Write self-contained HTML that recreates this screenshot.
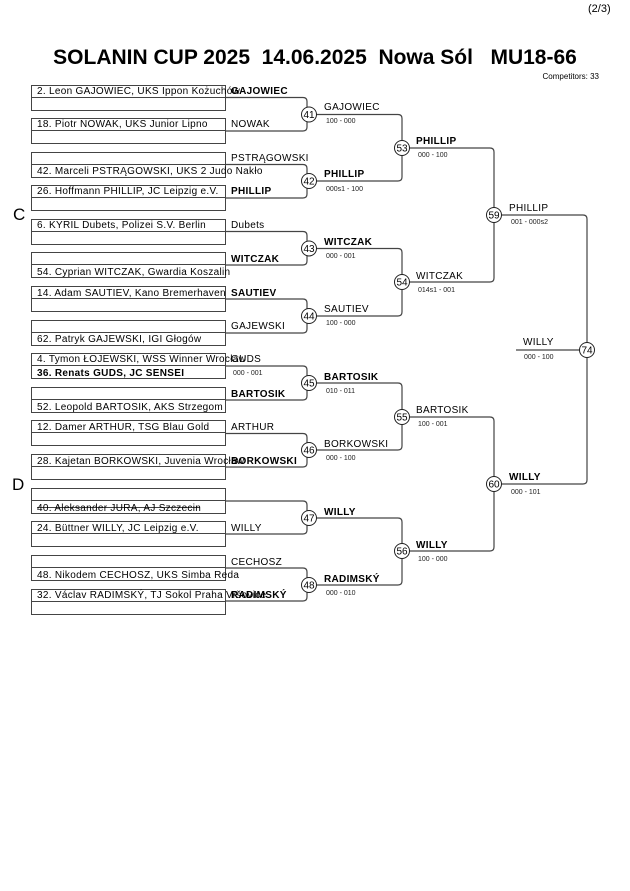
<!DOCTYPE html>
<html><head><meta charset="utf-8"><style>
html,body{margin:0;padding:0;background:#fff;}
svg{display:block;font-family:"Liberation Sans",Arial,sans-serif;}
.n{font-size:10px;letter-spacing:0.3px;fill:#000}
.b{font-weight:bold}
.s{font-size:7px;fill:#222}
.c{font-size:10px;text-anchor:middle;fill:#000}
rect{fill:none;stroke:#444;stroke-width:1}
path,line{fill:none;stroke:#444;stroke-width:1.2}
circle{fill:#fff;stroke:#222;stroke-width:1}
</style></head><body>
<svg width="630" height="891" viewBox="0 0 630 891" xmlns="http://www.w3.org/2000/svg">
<text x="588" y="12" style="font-size:11px">(2/3)</text>
<text x="315" y="64" text-anchor="middle" xml:space="preserve" style="font-size:21px;font-weight:bold">SOLANIN CUP 2025  14.06.2025  Nowa Sól   MU18-66</text>
<text x="599" y="79" text-anchor="end" style="font-size:8px">Competitors: 33</text>
<text x="13" y="220" style="font-size:17px">C</text>
<text x="12" y="490" style="font-size:17px">D</text>

<g>
<rect x="31.5" y="85.5" width="194" height="25"/><line x1="31.5" y1="97.5" x2="225.5" y2="97.5" style="stroke-width:1"/>
<rect x="31.5" y="118.5" width="194" height="25"/><line x1="31.5" y1="130.5" x2="225.5" y2="130.5" style="stroke-width:1"/>
<rect x="31.5" y="152.5" width="194" height="25"/><line x1="31.5" y1="164.5" x2="225.5" y2="164.5" style="stroke-width:1"/>
<rect x="31.5" y="185.5" width="194" height="25"/><line x1="31.5" y1="197.5" x2="225.5" y2="197.5" style="stroke-width:1"/>
<rect x="31.5" y="219.5" width="194" height="25"/><line x1="31.5" y1="231.5" x2="225.5" y2="231.5" style="stroke-width:1"/>
<rect x="31.5" y="252.5" width="194" height="25"/><line x1="31.5" y1="264.5" x2="225.5" y2="264.5" style="stroke-width:1"/>
<rect x="31.5" y="286.5" width="194" height="25"/><line x1="31.5" y1="298.5" x2="225.5" y2="298.5" style="stroke-width:1"/>
<rect x="31.5" y="320.5" width="194" height="25"/><line x1="31.5" y1="332.5" x2="225.5" y2="332.5" style="stroke-width:1"/>
<rect x="31.5" y="353.5" width="194" height="25"/><line x1="31.5" y1="365.5" x2="225.5" y2="365.5" style="stroke-width:1"/>
<rect x="31.5" y="387.5" width="194" height="25"/><line x1="31.5" y1="399.5" x2="225.5" y2="399.5" style="stroke-width:1"/>
<rect x="31.5" y="420.5" width="194" height="25"/><line x1="31.5" y1="432.5" x2="225.5" y2="432.5" style="stroke-width:1"/>
<rect x="31.5" y="454.5" width="194" height="25"/><line x1="31.5" y1="466.5" x2="225.5" y2="466.5" style="stroke-width:1"/>
<rect x="31.5" y="488.5" width="194" height="25"/><line x1="31.5" y1="500.5" x2="225.5" y2="500.5" style="stroke-width:1"/>
<rect x="31.5" y="521.5" width="194" height="25"/><line x1="31.5" y1="533.5" x2="225.5" y2="533.5" style="stroke-width:1"/>
<rect x="31.5" y="555.5" width="194" height="25"/><line x1="31.5" y1="567.5" x2="225.5" y2="567.5" style="stroke-width:1"/>
<rect x="31.5" y="589.5" width="194" height="25"/><line x1="31.5" y1="601.5" x2="225.5" y2="601.5" style="stroke-width:1"/>
</g>

<g>
<path d="M225 97.5 H303 q4 0 4 4 V127 q0 4 -4 4 H225"/>
<path d="M225 164.5 H303 q4 0 4 4 V194 q0 4 -4 4 H225"/>
<path d="M225 231.5 H303 q4 0 4 4 V261 q0 4 -4 4 H225"/>
<path d="M225 299 H303 q4 0 4 4 V329 q0 4 -4 4 H225"/>
<path d="M225 366 H303 q4 0 4 4 V396 q0 4 -4 4 H225"/>
<path d="M225 433.5 H303 q4 0 4 4 V463 q0 4 -4 4 H225"/>
<path d="M225 501 H303 q4 0 4 4 V530 q0 4 -4 4 H225"/>
<path d="M225 568 H303 q4 0 4 4 V597 q0 4 -4 4 H225"/>
<path d="M309 114.5 H398 q4 0 4 4 V177 q0 4 -4 4 H309"/>
<path d="M309 248.5 H398 q4 0 4 4 V312 q0 4 -4 4 H309"/>
<path d="M309 383 H398 q4 0 4 4 V446 q0 4 -4 4 H309"/>
<path d="M309 518 H398 q4 0 4 4 V581 q0 4 -4 4 H309"/>
<path d="M402 148 H490 q4 0 4 4 V278 q0 4 -4 4 H402"/>
<path d="M402 417 H490 q4 0 4 4 V547 q0 4 -4 4 H402"/>
<path d="M494 215 H583 q4 0 4 4 V480 q0 4 -4 4 H494"/>
<line x1="516" y1="350" x2="587" y2="350"/>
</g>

<g>
<circle cx="309" cy="114.5" r="7.5"/><text class="c" x="309" y="118">41</text>
<circle cx="309" cy="181" r="7.5"/><text class="c" x="309" y="184.5">42</text>
<circle cx="309" cy="248.5" r="7.5"/><text class="c" x="309" y="252">43</text>
<circle cx="309" cy="316" r="7.5"/><text class="c" x="309" y="319.5">44</text>
<circle cx="309" cy="383" r="7.5"/><text class="c" x="309" y="386.5">45</text>
<circle cx="309" cy="450" r="7.5"/><text class="c" x="309" y="453.5">46</text>
<circle cx="309" cy="518" r="7.5"/><text class="c" x="309" y="521.5">47</text>
<circle cx="309" cy="585" r="7.5"/><text class="c" x="309" y="588.5">48</text>
<circle cx="402" cy="148" r="7.5"/><text class="c" x="402" y="151.5">53</text>
<circle cx="402" cy="282" r="7.5"/><text class="c" x="402" y="285.5">54</text>
<circle cx="402" cy="417" r="7.5"/><text class="c" x="402" y="420.5">55</text>
<circle cx="402" cy="551" r="7.5"/><text class="c" x="402" y="554.5">56</text>
<circle cx="494" cy="215" r="7.5"/><text class="c" x="494" y="218.5">59</text>
<circle cx="494" cy="484" r="7.5"/><text class="c" x="494" y="487.5">60</text>
<circle cx="587" cy="350" r="7.5"/><text class="c" x="587" y="353.5">74</text>
</g>

<g class="n">
<text class="n" x="37" y="94">2. Leon GAJOWIEC, UKS Ippon Kożuchów</text>
<text class="n" x="37" y="127">18. Piotr NOWAK, UKS Junior Lipno</text>
<text class="n" x="37" y="174">42. Marceli PSTRĄGOWSKI, UKS 2 Judo Nakło</text>
<text class="n" x="37" y="194">26. Hoffmann PHILLIP, JC Leipzig e.V.</text>
<text class="n" x="37" y="228">6. KYRIL Dubets, Polizei S.V. Berlin</text>
<text class="n" x="37" y="275">54. Cyprian WITCZAK, Gwardia Koszalin</text>
<text class="n" x="37" y="296">14. Adam SAUTIEV, Kano Bremerhaven</text>
<text class="n" x="37" y="342">62. Patryk GAJEWSKI, IGI Głogów</text>
<text class="n" x="37" y="362">4. Tymon ŁOJEWSKI, WSS Winner Wrocław</text>
<text class="n b" x="37" y="376">36. Renats GUDS, JC SENSEI</text>
<text class="n" x="37" y="410">52. Leopold BARTOSIK, AKS Strzegom</text>
<text class="n" x="37" y="430">12. Damer ARTHUR, TSG Blau Gold</text>
<text class="n" x="37" y="464">28. Kajetan BORKOWSKI, Juvenia Wrocław</text>
<text class="n" x="37" y="511">40. Aleksander JURA, AJ Szczecin</text>
<text class="n" x="37" y="531">24. Büttner WILLY, JC Leipzig e.V.</text>
<text class="n" x="37" y="578">48. Nikodem CECHOSZ, UKS Simba Reda</text>
<text class="n" x="37" y="598">32. Václav RADIMSKÝ, TJ Sokol Praha Vršovice</text>
</g>
<line x1="37" y1="507.5" x2="200" y2="507.5" style="stroke:#000;stroke-width:0.8"/>

<text class="n b" x="231" y="94">GAJOWIEC</text>
<text class="n" x="231" y="127">NOWAK</text>
<text class="n" x="231" y="161">PSTRĄGOWSKI</text>
<text class="n b" x="231" y="194">PHILLIP</text>
<text class="n" x="231" y="228">Dubets</text>
<text class="n b" x="231" y="262">WITCZAK</text>
<text class="n b" x="231" y="296">SAUTIEV</text>
<text class="n" x="231" y="329">GAJEWSKI</text>
<text class="n" x="231" y="362">GUDS</text>
<text class="s" x="233" y="375">000 - 001</text>
<text class="n b" x="231" y="397">BARTOSIK</text>
<text class="n" x="231" y="430">ARTHUR</text>
<text class="n b" x="231" y="464">BORKOWSKI</text>
<text class="n" x="231" y="531">WILLY</text>
<text class="n" x="231" y="565">CECHOSZ</text>
<text class="n b" x="231" y="598">RADIMSKÝ</text>

<text class="n" x="324" y="110">GAJOWIEC</text><text class="s" x="326" y="123">100 - 000</text>
<text class="n b" x="324" y="177">PHILLIP</text><text class="s" x="326" y="191">000s1 - 100</text>
<text class="n b" x="324" y="245">WITCZAK</text><text class="s" x="326" y="258">000 - 001</text>
<text class="n" x="324" y="312">SAUTIEV</text><text class="s" x="326" y="325">100 - 000</text>
<text class="n b" x="324" y="380">BARTOSIK</text><text class="s" x="326" y="393">010 - 011</text>
<text class="n" x="324" y="447">BORKOWSKI</text><text class="s" x="326" y="460">000 - 100</text>
<text class="n b" x="324" y="515">WILLY</text>
<text class="n b" x="324" y="582">RADIMSKÝ</text><text class="s" x="326" y="595">000 - 010</text>

<text class="n b" x="416" y="144">PHILLIP</text><text class="s" x="418" y="157">000 - 100</text>
<text class="n" x="416" y="279">WITCZAK</text><text class="s" x="418" y="292">014s1 - 001</text>
<text class="n" x="416" y="413">BARTOSIK</text><text class="s" x="418" y="426">100 - 001</text>
<text class="n b" x="416" y="548">WILLY</text><text class="s" x="418" y="561">100 - 000</text>

<text class="n" x="509" y="211">PHILLIP</text><text class="s" x="511" y="224">001 - 000s2</text>
<text class="n b" x="509" y="480">WILLY</text><text class="s" x="511" y="494">000 - 101</text>
<text class="n" x="523" y="345">WILLY</text><text class="s" x="524" y="359">000 - 100</text>
</svg>
</body></html>
